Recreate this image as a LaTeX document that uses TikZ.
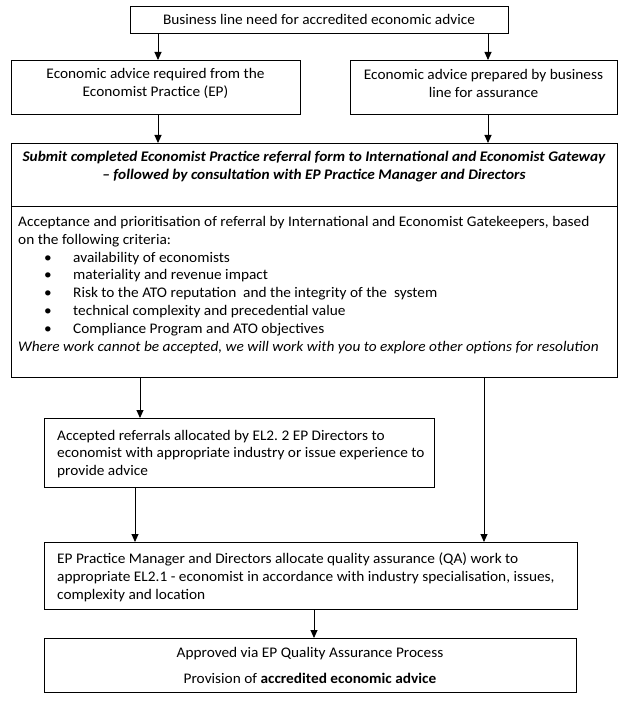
\documentclass[tikz,border=0pt]{standalone}
\usepackage{fontspec}
\setmainfont{Carlito}[FakeStretch=1.045]
\usetikzlibrary{arrows.meta}
\frenchspacing
\begin{document}
\begin{tikzpicture}[x=1pt,y=-1pt,
  box/.style={draw, line width=1.1pt, inner sep=0pt, anchor=north west},
  txt/.style={inner sep=0pt, font=\fontsize{14.67}{17.9}\selectfont},
  arr/.style={draw, line width=0.9pt, -{Triangle[width=7pt,length=8pt]}}]
\useasboundingbox (0,0) rectangle (629,703);
% boxes
\node[box, minimum width=378pt, minimum height=27pt] (b1) at (130,6) {};
\node[box, minimum width=289pt, minimum height=54pt] (b2) at (11,60) {};
\node[box, minimum width=267pt, minimum height=54pt] (b3) at (350,60) {};
\node[box, minimum width=606pt, minimum height=63pt] (b4a) at (11,143) {};
\node[box, minimum width=606pt, minimum height=171pt] (b4b) at (11,206) {};
\node[box, minimum width=390pt, minimum height=69pt] (b6) at (44,418) {};
\node[box, minimum width=533pt, minimum height=67pt] (b7) at (44,542) {};
\node[box, minimum width=532pt, minimum height=54pt] (b8) at (44,638) {};
% texts
\node[txt] (t1) at (319,19.5) {Business line need for accredited economic advice};
\node[txt, align=center] (t2) at (155.5,83.5) {Economic advice required from the\\Economist Practice (EP)};
\node[txt, align=center] (t3) at (483.5,83.5) {Economic advice prepared by business\\line for assurance};
\node[txt, align=center, font=\fontsize{14.67}{17.9}\selectfont\bfseries\itshape] (t4a) at (314,167)
  {Submit completed Economist Practice referral form to International and Economist Gateway\\
   -- followed by consultation with EP Practice Manager and Directors};
\node[txt, align=left, anchor=west] (t4b) at (18,285)
  {Acceptance and prioritisation of referral by International and Economist Gatekeepers, based\\
   on the following criteria:\\
   \hspace*{26pt}\makebox[29pt][l]{\textbullet}availability of economists\\
   \hspace*{26pt}\makebox[29pt][l]{\textbullet}materiality and revenue impact\\
   \hspace*{26pt}\makebox[29pt][l]{\textbullet}Risk to the ATO reputation\ \ and the integrity of the\ \ system\\
   \hspace*{26pt}\makebox[29pt][l]{\textbullet}technical complexity and precedential value\\
   \hspace*{26pt}\makebox[29pt][l]{\textbullet}Compliance Program and ATO objectives\\
   \textit{Where work cannot be accepted, we will work with you to explore other options for resolution}};
\node[txt, align=left, anchor=west] (t6) at (57,454)
  {Accepted referrals allocated by EL2. 2 EP Directors to\\
   economist with appropriate industry or issue experience to\\
   provide advice};
\node[txt, align=left, anchor=west] (t7) at (57,577.5)
  {EP Practice Manager and Directors allocate quality assurance (QA) work to\\
   appropriate EL2.1 - economist in accordance with industry specialisation, issues,\\
   complexity and location};
\node[txt, align=center] (t8) at (310,665.5)
  {Approved via EP Quality Assurance Process\\[9pt]
   Provision of \textbf{accredited economic advice}};
% arrow x positions
\coordinate (xa) at (158,0);
\coordinate (xb) at (488,0);
\coordinate (xc) at (140,0);
\coordinate (xd) at (484,0);
\coordinate (xe) at (135,0);
\coordinate (xf) at (314,0);
% connectors
\draw[arr] (b1.south -| xa) -- (b2.north -| xa);
\draw[arr] (b1.south -| xb) -- (b3.north -| xb);
\draw[arr] (b2.south -| xa) -- (b4a.north -| xa);
\draw[arr] (b3.south -| xb) -- (b4a.north -| xb);
\draw[arr] (b4b.south -| xc) -- (b6.north -| xc);
\draw[arr] (b4b.south -| xd) -- (b7.north -| xd);
\draw[arr] (b6.south -| xe) -- (b7.north -| xe);
\draw[arr] (b7.south -| xf) -- (b8.north -| xf);
\end{tikzpicture}
\end{document}
